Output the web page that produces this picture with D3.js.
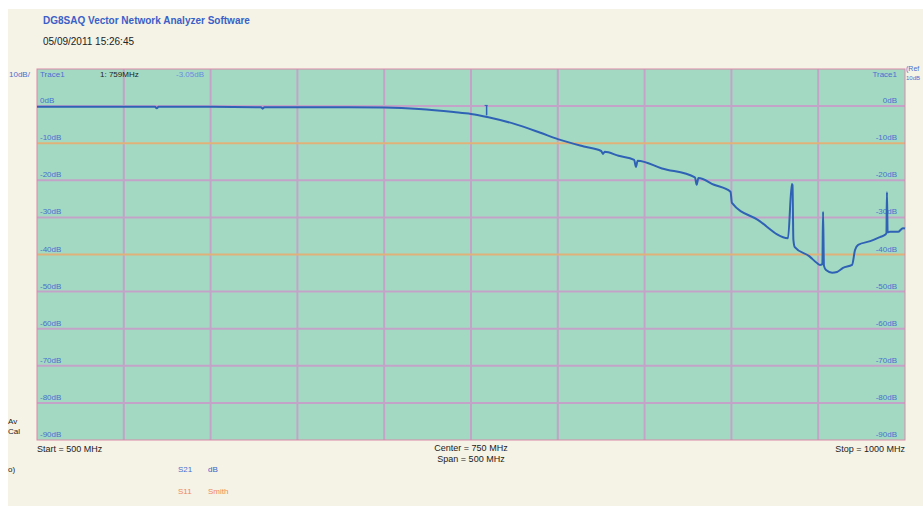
<!DOCTYPE html>
<html>
<head>
  <meta charset="utf-8">
  <title>DG8SAQ VNA S21</title>
  <style>
    body { margin: 0; background: #ffffff; }
    svg { display: block; font-family: "Liberation Sans", Arial, sans-serif; }
  </style>
</head>
<body>
  <svg id="chart" width="923" height="506"></svg>

  <script src="https://d3js.org/d3.v7.min.js"></script>
  <script>
    // trace data: frequency (MHz) and S21 (dB)
    const freqs = [500, 540, 568, 569, 570, 600, 629, 630, 631, 650, 680, 700, 720, 740, 750, 760,
      775, 790, 800, 815, 825, 826, 827, 835, 844, 845, 846, 860, 879, 880, 881, 890, 899.5,
      900.3, 915, 932.6, 934.8, 935.2, 935.7, 936.5, 945, 949.3, 951, 952.4, 952.8, 953.3, 954.5,
      958, 960.8, 964.3, 969.5, 971.2, 973, 980, 985.6, 988.5, 989.3, 989.6, 990, 991.4, 996, 998.8, 1000];
    const s21 = [-0.2, -0.2, -0.2, -0.6, -0.2, -0.2, -0.3, -0.7, -0.3, -0.3, -0.3, -0.4, -0.8, -1.6, -2.1, -3.0,
      -4.8, -7.2, -8.9, -10.9, -12.1, -12.9, -12.3, -13.4, -14.5, -16.4, -14.7, -16.8, -19.2, -21.2, -19.4, -21.2, -23.1,
      -26.1, -30.6, -35.6, -21.0, -21.3, -36.0, -38.0, -40.5, -42.3, -42.8, -42.6, -28.5, -43.0, -44.2,
      -44.9, -44.7, -43.6, -42.8, -38.8, -37.4, -36.4, -35.3, -34.7, -34.2, -23.2, -34.0, -33.9, -33.9, -32.9, -33.0];

    const yTicks = [0, -10, -20, -30, -40, -50, -60, -70, -80, -90];
    const yTickLabels = ["0dB", "-10dB", "-20dB", "-30dB", "-40dB", "-50dB", "-60dB", "-70dB", "-80dB", "-90dB"];
    const limitLines = [-10, -40];
    const markerFreq = 759;
    const markerDb = -3.05;

    const svg = d3.select("#chart");

    // cream panel of the software window
    svg.append("rect")
      .attr("x", 8).attr("y", 9)
      .attr("width", 915).attr("height", 497)
      .attr("fill", "#f5f2e6");

    const x = d3.scaleLinear().domain([500, 1000]).range([37, 905]);
    const y = d3.scaleLinear().domain([10, -90]).range([69, 440]);

    // plot background
    svg.append("rect")
      .attr("x", x(500)).attr("y", y(10))
      .attr("width", x(1000) - x(500)).attr("height", y(-90) - y(10))
      .attr("fill", "#a3d9c3");

    // vertical grid
    svg.append("g")
      .selectAll("line")
      .data(d3.range(550, 1000, 50))
      .join("line")
      .attr("x1", d => x(d)).attr("x2", d => x(d))
      .attr("y1", y(10)).attr("y2", y(-90))
      .attr("stroke", "#c3a3c8")
      .attr("stroke-width", 2);

    // horizontal grid
    svg.append("g")
      .selectAll("line")
      .data(d3.range(0, -90, -10))
      .join("line")
      .attr("x1", x(500)).attr("x2", x(1000))
      .attr("y1", d => y(d)).attr("y2", d => y(d))
      .attr("stroke", d => limitLines.includes(d) ? "#e0b27a" : "#c3a3c8")
      .attr("stroke-width", 2);

    // plot border
    svg.append("rect")
      .attr("x", x(500)).attr("y", y(10))
      .attr("width", x(1000) - x(500)).attr("height", y(-90) - y(10))
      .attr("fill", "none")
      .attr("stroke", "#d98aa8")
      .attr("stroke-width", 1);

    // y labels, left and right
    const labelData = yTicks.map((v, i) => ({ v: v, t: yTickLabels[i] }));
    svg.append("g")
      .selectAll("text")
      .data(labelData)
      .join("text")
      .attr("x", x(500) + 3)
      .attr("y", d => y(d.v) - 3)
      .attr("font-size", 8)
      .attr("fill", "#4a6fd0")
      .text(d => d.t);

    svg.append("g")
      .selectAll("text")
      .data(labelData)
      .join("text")
      .attr("x", x(1000) - 8)
      .attr("y", d => y(d.v) - 3)
      .attr("text-anchor", "end")
      .attr("font-size", 8)
      .attr("fill", "#4a6fd0")
      .text(d => d.t);

    // trace
    const traceData = freqs.map((f, i) => [f, s21[i]]);
    svg.append("path")
      .datum(traceData)
      .attr("fill", "none")
      .attr("stroke", "#2f62b5")
      .attr("stroke-width", 2)
      .attr("stroke-linejoin", "round")
      .attr("d", d3.line().curve(d3.curveMonotoneX).x(d => x(d[0])).y(d => y(d[1])));

    // marker 1
    svg.append("line")
      .attr("x1", x(markerFreq)).attr("x2", x(markerFreq))
      .attr("y1", y(markerDb) - 12).attr("y2", y(markerDb) - 2)
      .attr("stroke", "#2f62b5").attr("stroke-width", 1.5);
    svg.append("line")
      .attr("x1", x(markerFreq) - 2).attr("x2", x(markerFreq) + 1)
      .attr("y1", y(markerDb) - 12).attr("y2", y(markerDb) - 12)
      .attr("stroke", "#2f62b5").attr("stroke-width", 1);

    // header texts
    svg.append("text")
      .attr("x", 43).attr("y", 24)
      .attr("font-size", 10).attr("font-weight", "bold")
      .attr("fill", "#3a5fc8")
      .text("DG8SAQ Vector Network Analyzer Software");
    svg.append("text")
      .attr("x", 43).attr("y", 45)
      .attr("font-size", 10).attr("fill", "#222")
      .text("05/09/2011   15:26:45");

    svg.append("text").attr("x", 9).attr("y", 77)
      .attr("font-size", 8).attr("fill", "#4a6fd0").text("10dB/");
    svg.append("text").attr("x", 40).attr("y", 77)
      .attr("font-size", 8).attr("fill", "#4a6fd0").text("Trace1");
    svg.append("text").attr("x", 100).attr("y", 77)
      .attr("font-size", 8).attr("fill", "#222").text("1:   " + markerFreq + "MHz");
    svg.append("text").attr("x", 176).attr("y", 77)
      .attr("font-size", 8).attr("fill", "#6a8be0").text("-" + Math.abs(markerDb).toFixed(2) + "dB");
    svg.append("text").attr("x", 897).attr("y", 77)
      .attr("text-anchor", "end")
      .attr("font-size", 8).attr("fill", "#4a6fd0").text("Trace1");
    svg.append("text").attr("x", 906).attr("y", 71)
      .attr("font-size", 7).attr("fill", "#4a6fd0").text("(Ref");
    svg.append("text").attr("x", 906).attr("y", 80)
      .attr("font-size", 6).attr("fill", "#4a6fd0").text("10dB");

    // left side status
    svg.append("text").attr("x", 8).attr("y", 424)
      .attr("font-size", 8).attr("fill", "#222").text("Av");
    svg.append("text").attr("x", 8).attr("y", 434)
      .attr("font-size", 8).attr("fill", "#222").text("Cal");
    svg.append("text").attr("x", 8).attr("y", 472)
      .attr("font-size", 8).attr("fill", "#222").text("o)");

    // frequency annotations
    svg.append("text").attr("x", x(500)).attr("y", 452)
      .attr("font-size", 9).attr("fill", "#222").text("Start = 500 MHz");
    svg.append("text").attr("x", x(750)).attr("y", 451)
      .attr("text-anchor", "middle")
      .attr("font-size", 9).attr("fill", "#222").text("Center = 750 MHz");
    svg.append("text").attr("x", x(750)).attr("y", 462)
      .attr("text-anchor", "middle")
      .attr("font-size", 9).attr("fill", "#222").text("Span = 500 MHz");
    svg.append("text").attr("x", x(1000)).attr("y", 452)
      .attr("text-anchor", "end")
      .attr("font-size", 9).attr("fill", "#222").text("Stop = 1000 MHz");

    // trace legend
    svg.append("text").attr("x", 178).attr("y", 472)
      .attr("font-size", 8).attr("fill", "#4a6fd0").text("S21");
    svg.append("text").attr("x", 208).attr("y", 472)
      .attr("font-size", 8).attr("fill", "#3a5fc8").text("dB");
    svg.append("text").attr("x", 178).attr("y", 494)
      .attr("font-size", 8).attr("fill", "#f08a5a").text("S11");
    svg.append("text").attr("x", 208).attr("y", 494)
      .attr("font-size", 8).attr("fill", "#f08a5a").text("Smith");
  </script>
</body>
</html>
